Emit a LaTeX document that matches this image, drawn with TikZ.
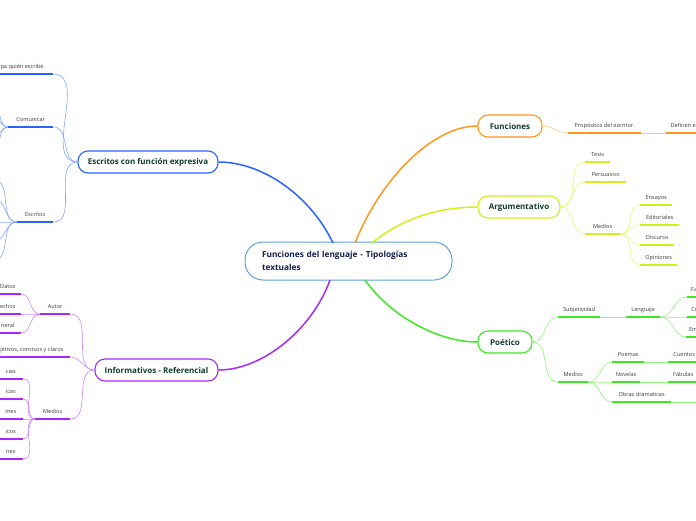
\documentclass[tikz,border=0pt]{standalone}
\usepackage{fontspec}
\setmainfont{Open Sans}

\definecolor{rootline}{RGB}{95,160,220}
\definecolor{roottext}{RGB}{20,30,75}
\definecolor{topictext}{RGB}{15,60,45}
\definecolor{leaftext}{RGB}{60,60,60}
\definecolor{escblue}{RGB}{41,98,255}
\definecolor{escbluelt}{RGB}{135,165,255}
\definecolor{infpurple}{RGB}{170,40,250}
\definecolor{infpurplelt}{RGB}{205,135,255}
\definecolor{funorange}{RGB}{255,150,30}
\definecolor{funorangelt}{RGB}{255,200,130}
\definecolor{argyellow}{RGB}{205,242,25}
\definecolor{argyellowlt}{RGB}{225,250,115}
\definecolor{poegreen}{RGB}{60,235,30}
\definecolor{poegreenlt}{RGB}{145,245,125}

\tikzset{
    root node/.style={draw=rootline, line width=1pt, rounded corners=18pt, fill=white,
        minimum width=207pt, minimum height=38pt, inner xsep=17pt, text width=173pt,
        align=left, text=roottext, font=\fontsize{8.3}{13}\selectfont\bfseries},
    topic node/.style={draw, line width=1.1pt, rounded corners=10pt, fill=white,
        minimum height=22pt, inner xsep=0pt, text=topictext,
        font=\fontsize{8}{9}\selectfont\bfseries},
    leaf/.style={inner xsep=0pt, inner ysep=4.2pt, text height=4.2pt, text depth=1.3pt,
        text=leaftext, font=\fontsize{5.6}{6}\selectfont},
    main link/.style={line width=1.5pt},
    sub link/.style={line width=0.6pt},
    under/.style={line width=1.5pt}
    }

\begin{document}
\begin{tikzpicture}[x=1pt,y=-1pt]
    \useasboundingbox (0,0) rectangle (696,520);
    \clip (0,0) rectangle (696,520);

    % main topics
    \node(0)[root node] at (348.5,261) {Funciones del lenguaje - Tipologías\\textuales};
    \node(esc)[topic node, draw=escblue, minimum width=140pt] at (148,162) {Escritos con función expresiva};
    \node(inf)[topic node, draw=infpurple, minimum width=123pt] at (156.5,370) {Informativos - Referencial};
    \node(fun)[topic node, draw=funorange, minimum width=64pt] at (510,126) {Funciones};
    \node(arg)[topic node, draw=argyellow, minimum width=82pt] at (519,207) {Argumentativo};
    \node(poe)[topic node, draw=poegreen, minimum width=54pt] at (505,342) {Poético};

    \draw[main link, escblue] (333,243) .. controls (310,195) and (262,162) .. (esc.east);
    \draw[main link, infpurple] (330,280) .. controls (312,330) and (262,370) .. (inf.east);
    \draw[main link, funorange] (355,243) .. controls (380,180) and (432,126) .. (fun.west);
    \draw[main link, argyellow] (372,243) .. controls (402,218) and (440,207) .. (arg.west);
    \draw[main link, poegreen] (365,280) .. controls (392,318) and (440,342) .. (poe.west);

    % escritos con funcion expresiva
    \node(esc1)[leaf, anchor=south east, minimum width=60pt] at (53,74) {pa quién escribe.};
    \node(esc2)[leaf, anchor=south west, minimum width=45pt] at (8,127) {Comunicar};
    \node(esc3)[leaf, anchor=south west, minimum width=36pt] at (17,222) {Escritos};
    \foreach \y [count=\i] in {106,116,138,148}
        \coordinate(com\i) at (-8,\y);
    \foreach \y [count=\i] in {180,199,222,241,260}
        \coordinate(escr\i) at (-6,\y);
    \foreach \n in {esc1,esc2,esc3}
        \draw[under, escblue] (\n.south west) -- (\n.south east);
    \foreach \n in {esc1,esc2,esc3}
        \draw[sub link, escbluelt] (esc.west) to[out=180,in=0] (\n.south east);
    \foreach \i in {1,...,4}
        \draw[sub link, escbluelt] (esc2.south west) to[out=180,in=0] (com\i);
    \foreach \i in {1,...,5}
        \draw[sub link, escbluelt] (esc3.south west) to[out=180,in=0] (escr\i);

    % informativos - referencial
    \node(aut)[leaf, anchor=south west, minimum width=30pt] at (40,314) {Autor};
    \node(aut1)[leaf, anchor=south east, minimum width=26pt] at (21,294) {Datos};
    \node(aut2)[leaf, anchor=south east, minimum width=26pt] at (21,314) {echos};
    \node(aut3)[leaf, anchor=south east, minimum width=26pt] at (21,333) {neral};
    \node(obj)[leaf, anchor=south east, minimum width=76pt] at (70,357) {jetivos, concisos y claros};
    \node(med)[leaf, anchor=south west, minimum width=35pt] at (35,419) {Medios};
    \node(med1)[leaf, anchor=south east, minimum width=24pt] at (23,379) {cias};
    \node(med2)[leaf, anchor=south east, minimum width=24pt] at (23,399) {icas};
    \node(med3)[leaf, anchor=south east, minimum width=24pt] at (23,419) {mes};
    \node(med4)[leaf, anchor=south east, minimum width=24pt] at (23,439) {icos};
    \node(med5)[leaf, anchor=south east, minimum width=24pt] at (23,459) {nes};
    \foreach \n in {aut,aut1,aut2,aut3,obj,med,med1,med2,med3,med4,med5}
        \draw[under, infpurple] (\n.south west) -- (\n.south east);
    \foreach \n in {aut,obj,med}
        \draw[sub link, infpurplelt] (inf.west) to[out=180,in=0] (\n.south east);
    \foreach \n in {aut1,aut2,aut3}
        \draw[sub link, infpurplelt] (aut.south west) to[out=180,in=0] (\n.south east);
    \foreach \n in {med1,med2,med3,med4,med5}
        \draw[sub link, infpurplelt] (med.south west) to[out=180,in=0] (\n.south east);

    % funciones
    \node(fun1)[leaf, anchor=south west, minimum width=73pt] at (568,133) {Propósitos del escritor.};
    \node(fun2)[leaf, anchor=south west, minimum width=34pt] at (666,133) {Definen e};
    \foreach \n in {fun1,fun2}
        \draw[under, funorange] (\n.south west) -- (\n.south east);
    \draw[sub link, funorangelt] (fun.east) to[out=0,in=180] (fun1.south west);
    \draw[sub link, funorangelt] (fun1.south east) -- (fun2.south west);

    % argumentativo
    \node(arg1)[leaf, anchor=south west, minimum width=25pt] at (585,162) {Tesis};
    \node(arg2)[leaf, anchor=south west, minimum width=41pt] at (585,182) {Persuasivo};
    \node(arg3)[leaf, anchor=south west, minimum width=35pt] at (585,234) {Medios};
    \node(arg4)[leaf, anchor=south west, minimum width=32pt] at (640,205) {Ensayos};
    \node(arg5)[leaf, anchor=south west, minimum width=39pt] at (640,225) {Editoriales};
    \node(arg6)[leaf, anchor=south west, minimum width=34pt] at (640,245) {Discurso};
    \node(arg7)[leaf, anchor=south west, minimum width=37pt] at (640,265) {Opiniones};
    \foreach \n in {arg1,arg2,arg3,arg4,arg5,arg6,arg7}
        \draw[under, argyellow] (\n.south west) -- (\n.south east);
    \foreach \n in {arg1,arg2,arg3}
        \draw[sub link, argyellowlt] (arg.east) to[out=0,in=180] (\n.south west);
    \foreach \n in {arg4,arg5,arg6,arg7}
        \draw[sub link, argyellowlt] (arg3.south east) to[out=0,in=180] (\n.south west);

    % poetico
    \node(poe1)[leaf, anchor=south west, minimum width=42pt] at (558,317) {Subjetividad};
    \node(poe2)[leaf, anchor=south west, minimum width=34pt] at (626,317) {Lenguaje};
    \node(poe3)[leaf, anchor=south west, minimum width=14pt] at (687,297) {Fa};
    \node(poe4)[leaf, anchor=south west, minimum width=14pt] at (687,317) {Cr};
    \node(poe5)[leaf, anchor=south west, minimum width=14pt] at (686,337) {Em};
    \node(poe6)[leaf, anchor=south west, minimum width=30pt] at (558,382) {Medios};
    \node(poe7)[leaf, anchor=south west, minimum width=32pt] at (612,362) {Poemas};
    \node(poe8)[leaf, anchor=south west, minimum width=32pt] at (668,362) {Cuentos};
    \node(poe9)[leaf, anchor=south west, minimum width=28pt] at (612,382) {Novelas};
    \node(poe10)[leaf, anchor=south west, minimum width=30pt] at (668,382) {Fábulas};
    \node(poe11)[leaf, anchor=south west, minimum width=59pt] at (612,402) {Obras dramaticas};
    \coordinate(poe12) at (720,402);
    \foreach \n in {poe1,poe2,poe3,poe4,poe5,poe6,poe7,poe8,poe9,poe10,poe11}
        \draw[under, poegreen] (\n.south west) -- (\n.south east);
    \foreach \n in {poe1,poe6}
        \draw[sub link, poegreenlt] (poe.east) to[out=0,in=180] (\n.south west);
    \foreach \n in {poe3,poe4,poe5}
        \draw[sub link, poegreenlt] (poe2.south east) to[out=0,in=180] (\n.south west);
    \foreach \n in {poe7,poe9,poe11}
        \draw[sub link, poegreenlt] (poe6.south east) to[out=0,in=180] (\n.south west);
    \draw[sub link, poegreenlt] (poe1.south east) -- (poe2.south west);
    \draw[sub link, poegreenlt] (poe7.south east) -- (poe8.south west);
    \draw[sub link, poegreenlt] (poe9.south east) -- (poe10.south west);
    \draw[sub link, poegreenlt] (poe11.south east) -- (poe12);
\end{tikzpicture}
\end{document}
